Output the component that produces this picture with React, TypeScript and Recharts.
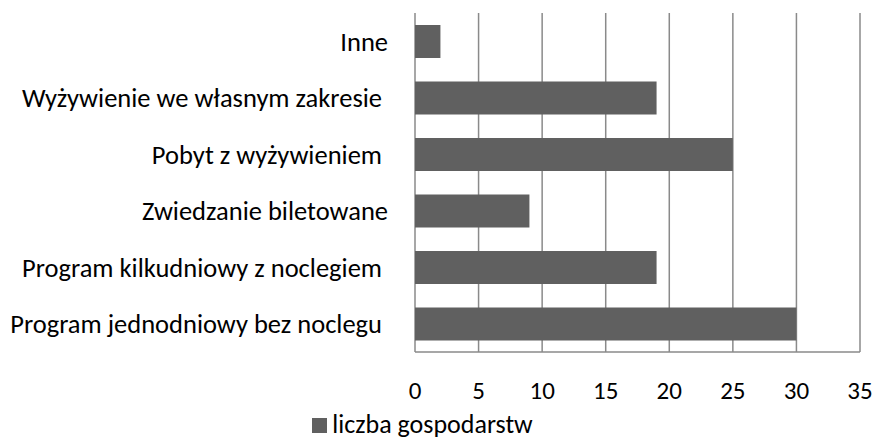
import React from 'react';
import { BarChart, Bar, XAxis, YAxis, CartesianGrid, Legend } from 'recharts';

const categories = [
  'Inne',
  'Wyżywienie we własnym zakresie ',
  'Pobyt z wyżywieniem ',
  'Zwiedzanie biletowane',
  'Program kilkudniowy z noclegiem ',
  'Program jednodniowy bez noclegu ',
];
const liczbaGospodarstw = [2, 19, 25, 9, 19, 30];
const xTicks = [0, 5, 10, 15, 20, 25, 30, 35];

const data = categories.map((name, i) => ({ name, value: liczbaGospodarstw[i] }));

const FONT = 'Carlito, Lato, sans-serif';

const LegendContent = () => (
  <div style={{ display: 'flex', alignItems: 'center', justifyContent: 'center', fontFamily: FONT, fontSize: 26, lineHeight: '32px', color: '#000' }}>
    <span style={{ display: 'inline-block', width: 15, height: 15, background: '#606060', marginRight: 5, marginTop: 3 }} />
    <span>liczba gospodarstw</span>
  </div>
);

const App: React.FC = () => (
  <div style={{ position: 'absolute', left: 0, top: 0, background: '#fff' }}>
    <BarChart
      width={875}
      height={440}
      data={data}
      layout="vertical"
      margin={{ top: 13, right: 15, left: 0, bottom: 0 }}
      barCategoryGap={12}
    >
      <CartesianGrid horizontal={false} vertical stroke="#8a8a8a" strokeWidth={1.5} />
      <XAxis
        type="number"
        domain={[0, 35]}
        ticks={xTicks}
        interval={0}
        axisLine={{ stroke: '#8a8a8a', strokeWidth: 1.5 }}
        tickLine={false}
        tickSize={0}
        tickMargin={29}
        height={56}
        tick={{ fill: '#000', fontSize: 25, fontFamily: FONT }}
      />
      <YAxis
        type="category"
        dataKey="name"
        width={415}
        axisLine={false}
        tickLine={false}
        tickSize={0}
        tickMargin={27}
        interval={0}
        tick={{ fill: '#000', fontSize: 26.5, fontFamily: FONT, style: { whiteSpace: 'pre' } }}
      />
      <Legend
        verticalAlign="bottom"
        content={LegendContent}
        wrapperStyle={{ position: 'absolute', top: 408, left: -15, width: 875 }}
      />
      <Bar dataKey="value" name="liczba gospodarstw" fill="#606060" barSize={33} isAnimationActive={false} />
    </BarChart>
  </div>
);

export default App;
